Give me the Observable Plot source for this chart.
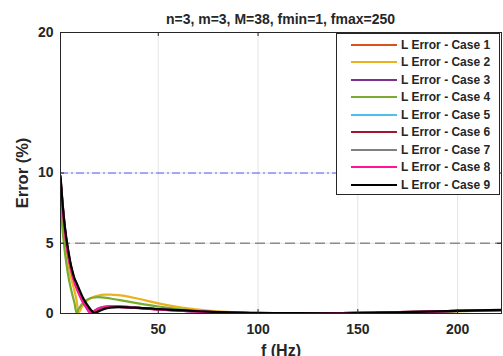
<!DOCTYPE html>
<html>
<head>
<meta charset="utf-8">
<script src="https://cdn.jsdelivr.net/npm/d3@7"></script>
<script src="https://cdn.jsdelivr.net/npm/@observablehq/plot@0.6"></script>
<style>
  html, body { margin: 0; padding: 0; background: #fff; }
  #wrap { position: relative; width: 503px; height: 356px; overflow: hidden;
          font-family: "Liberation Sans", Arial, sans-serif; color: #262626; }
  #subtitle { position: absolute; left: 60px; width: 441px; top: 11px; text-align: center;
              font-size: 14px; font-weight: bold; line-height: 16px; }
  #legend { position: absolute; left: 336px; top: 33px; width: 164px; height: 162px;
            border: 1px solid #262626; background: #fff; box-sizing: border-box; padding-top: 2px; }
  .row { display: flex; align-items: center; height: 17.5px; font-size: 12px; font-weight: bold; white-space: nowrap; }
  .swatch { display: inline-block; width: 46px; height: 0; margin-left: 14px; margin-right: 4px; border-top: 2.5px solid; }
</style>
</head>
<body>
<div id="wrap">
  <div id="chart"></div>
  <div id="subtitle"></div>
  <div id="legend"></div>
</div>
<script>
// Frequency grid (Hz) at which each error curve is sampled
const freq = [1,2,3,4,5,6,7,8,9,10,12,14,16,18,20,23,26,30,35,40,50,60,70,80,90,100,120,140,150,160,180,200,222];

// Inductance error (%) for each case
const case1 = [9.6,7.8,6.3,5.1,4.2,3.5,2.9,2.4,2.0,1.65,1.05,0.55,0.15,0.1,0.3,0.44,0.48,0.48,0.45,0.4,0.3,0.22,0.14,0.09,0.05,0.03,0.01,0.02,0.04,0.07,0.12,0.18,0.25];
const case2 = [8.6,6.7,5.3,4.2,3.4,2.7,2.15,1.6,1.0,0.05,0.55,0.88,1.08,1.2,1.28,1.34,1.35,1.31,1.2,1.05,0.72,0.46,0.28,0.16,0.09,0.05,0.02,0.01,0.03,0.06,0.11,0.17,0.23];
const case3 = [9.5,7.7,6.2,5.0,4.1,3.4,2.8,2.3,1.9,1.55,0.95,0.45,0.08,0.18,0.36,0.48,0.52,0.51,0.47,0.41,0.3,0.21,0.14,0.08,0.05,0.03,0.01,0.02,0.04,0.07,0.12,0.18,0.24];
const case4 = [8.0,6.0,4.6,3.5,2.6,1.9,1.3,0.75,0.05,0.3,0.72,0.95,1.08,1.14,1.16,1.13,1.07,0.97,0.84,0.72,0.5,0.32,0.18,0.09,0.04,0.02,0.01,0.01,0.03,0.06,0.11,0.17,0.23];
const case5 = [9.6,7.8,6.3,5.1,4.2,3.5,2.9,2.4,2.0,1.6,1.0,0.5,0.1,0.15,0.33,0.45,0.49,0.49,0.45,0.4,0.3,0.22,0.14,0.09,0.05,0.03,0.01,0.02,0.04,0.07,0.12,0.18,0.25];
const case6 = [9.7,7.9,6.4,5.2,4.3,3.5,2.9,2.4,2.05,1.7,1.1,0.6,0.2,0.08,0.28,0.43,0.47,0.47,0.44,0.4,0.3,0.22,0.15,0.09,0.05,0.03,0.01,0.02,0.04,0.07,0.12,0.18,0.25];
const case7 = [9.5,7.7,6.2,5.0,4.1,3.4,2.8,2.3,1.9,1.55,0.95,0.45,0.08,0.18,0.35,0.47,0.51,0.5,0.46,0.41,0.3,0.21,0.14,0.08,0.05,0.03,0.01,0.02,0.04,0.07,0.12,0.18,0.24];
const case8 = [9.3,7.6,6.1,4.9,4.0,3.3,2.7,2.2,1.8,1.45,0.85,0.4,0.05,0.2,0.34,0.45,0.48,0.47,0.43,0.38,0.28,0.2,0.13,0.08,0.04,0.02,0.01,0.02,0.04,0.07,0.12,0.18,0.24];
const case9 = [9.8,7.9,6.4,5.3,4.4,3.6,3.0,2.5,2.2,1.85,1.2,0.7,0.3,0.05,0.15,0.33,0.42,0.46,0.44,0.4,0.32,0.24,0.16,0.1,0.06,0.04,0.02,0.01,0.03,0.06,0.12,0.18,0.26];

const seriesNames = ["L Error - Case 1","L Error - Case 2","L Error - Case 3","L Error - Case 4","L Error - Case 5","L Error - Case 6","L Error - Case 7","L Error - Case 8","L Error - Case 9"];
const seriesColors = ["#D95319","#EDB120","#7E2F8E","#77AC30","#4DBEEE","#A2142F","#808080","#FF1493","#000000"];
const seriesValues = [case1, case2, case3, case4, case5, case6, case7, case8, case9];

// Axis ticks, labels and limit lines
const xTicks = [50, 100, 150, 200];
const yTicks = [0, 5, 10, 20];
const xLabel = "f (Hz)";
const yLabel = "Error (%)";
const limitHigh = 10;
const limitLow = 5;
const subtitleText = "n=3, m=3, M=38, fmin=1, fmax=250";

const rows = seriesValues.flatMap((vals, i) =>
  vals.map((v, j) => ({f: freq[j], err: v, name: seriesNames[i]})));

const W = 503, H = 356, mL = 60, mR = 2, mT = 32, mB = 43;
const frameH = H - mT - mB, frameW = W - mL - mR;
const tickLen = 4;
const ink = "#262626";

const chart = Plot.plot({
  width: W, height: H,
  marginLeft: mL, marginRight: mR, marginTop: mT, marginBottom: mB,
  x: {domain: [1, 222]},
  y: {domain: [0, 20]},
  color: {domain: seriesNames, range: seriesColors},
  style: {fontFamily: "'Liberation Sans', Arial, sans-serif", fontSize: "14px", fontWeight: "bold", color: ink, background: "white", overflow: "visible"},
  marks: [
    Plot.gridX(xTicks, {stroke: "#e4e4e4", strokeOpacity: 1}),
    Plot.gridY(yTicks, {stroke: "#e4e4e4", strokeOpacity: 1}),
    Plot.ruleY([limitHigh], {stroke: "#5b5bff", strokeWidth: 1, strokeDasharray: "8,3,2,3"}),
    Plot.ruleY([limitLow], {stroke: "#8c8c8c", strokeWidth: 1.5, strokeDasharray: "10,5"}),
    Plot.line(rows, {x: "f", y: "err", z: "name", stroke: "name", strokeWidth: 2.2, curve: "monotone-x", clip: true}),
    Plot.frame({stroke: ink, strokeWidth: 1}),
    // inward tick marks on all four sides
    Plot.ruleX(xTicks, {stroke: ink, insetTop: frameH - tickLen}),
    Plot.ruleX(xTicks, {stroke: ink, insetBottom: frameH - tickLen}),
    Plot.ruleY(yTicks, {stroke: ink, insetRight: frameW - tickLen}),
    Plot.ruleY(yTicks, {stroke: ink, insetLeft: frameW - tickLen}),
    Plot.axisX(xTicks, {tickSize: 0, tickPadding: 11, label: null}),
    Plot.axisY(yTicks, {tickSize: 0, tickPadding: 7, label: null}),
    Plot.axisX([], {tickSize: 0, label: xLabel, labelAnchor: "center", labelArrow: "none", labelOffset: 42, fontSize: 16}),
    Plot.axisY([], {tickSize: 0, label: yLabel, labelAnchor: "center", labelArrow: "none", labelOffset: 44, fontSize: 16.5})
  ]
});
document.getElementById("chart").appendChild(chart);

document.getElementById("subtitle").textContent = subtitleText;

const legend = document.getElementById("legend");
seriesNames.forEach((name, i) => {
  const row = document.createElement("div");
  row.className = "row";
  const sw = document.createElement("span");
  sw.className = "swatch";
  sw.style.borderTopColor = seriesColors[i];
  const label = document.createElement("span");
  label.textContent = name;
  row.appendChild(sw);
  row.appendChild(label);
  legend.appendChild(row);
});
</script>
</body>
</html>
